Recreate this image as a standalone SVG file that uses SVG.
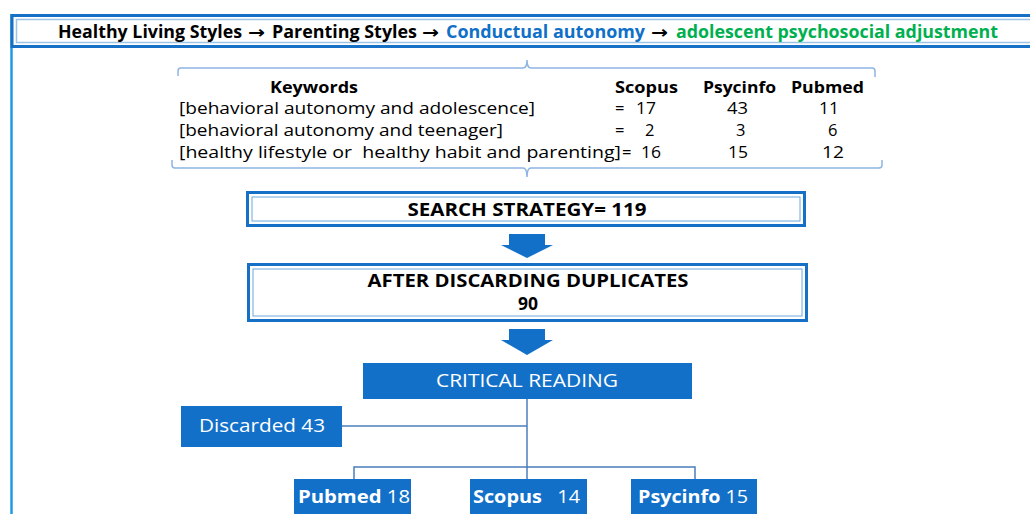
<svg xmlns="http://www.w3.org/2000/svg" width="1030" height="514" viewBox="0 0 1030 514">
<style>
.t{font-family:"Open Sans","Noto Sans","Liberation Sans",sans-serif;}
.ar{font-family:"DejaVu Sans","Liberation Sans",sans-serif;font-weight:bold;font-size:17px;fill:#000;}
.b{font-weight:bold;}
.k{font-size:16.5px;fill:#000;}
.hd{font-size:16.5px;font-weight:bold;fill:#000;}
.bx{fill:#1370C8;}
.wt{fill:#fff;font-size:17.5px;}
.brace{fill:none;stroke:#8EB4E3;stroke-width:1.5;}
.conn{fill:none;stroke:#4A7EBB;stroke-width:1.5;}
.outer{fill:#fff;stroke:#1670C6;stroke-width:3;}
.inner{fill:#fff;stroke:#6FA8DC;stroke-width:1;}
.arrow{fill:#1370C8;}
</style>

<!-- frame left line -->
<line x1="11.5" y1="14" x2="11.5" y2="514" stroke="#1E9BE0" stroke-width="2.5"/>

<g id="title">
  <rect x="12" y="15.5" width="1030" height="31" fill="#fff" stroke="#1670C6" stroke-width="3"/>
  <rect x="16.5" y="19.5" width="1030" height="23" fill="#fff" stroke="#9DC3E6" stroke-width="1.5"/>
  <text class="t b" x="58" y="38" font-size="17.5" textLength="184" lengthAdjust="spacingAndGlyphs" fill="#000">Healthy Living Styles</text>
  <text class="ar" x="248" y="38" textLength="17" lengthAdjust="spacingAndGlyphs">→</text>
  <text class="t b" x="272" y="38" font-size="17.5" textLength="145" lengthAdjust="spacingAndGlyphs" fill="#000">Parenting Styles</text>
  <text class="ar" x="422" y="38" textLength="17" lengthAdjust="spacingAndGlyphs">→</text>
  <text class="t b" x="446" y="38" font-size="17.5" textLength="199" lengthAdjust="spacingAndGlyphs" fill="#1070C8">Conductual autonomy</text>
  <text class="ar" x="651" y="38" textLength="17" lengthAdjust="spacingAndGlyphs">→</text>
  <text class="t b" x="676" y="38" font-size="17.5" textLength="322" lengthAdjust="spacingAndGlyphs" fill="#00B050">adolescent psychosocial adjustment</text>
</g>

<g id="keywords">
  <path class="brace" d="M178,76 L178,71 Q178,68 181,68 L523,68 Q527,68 527,60 Q527,68 531,68 L872,68 Q875,68 875,71 L875,77"/>
  <path class="brace" d="M172,160 L172,165 Q172,168 175,168 L523,168 Q527,168 527,177 Q527,168 531,168 L879,168 Q882,168 882,165 L882,160"/>
  <text class="t hd" x="270" y="93" textLength="88" lengthAdjust="spacingAndGlyphs">Keywords</text>
  <text class="t hd" x="615" y="93" textLength="63" lengthAdjust="spacingAndGlyphs">Scopus</text>
  <text class="t hd" x="703" y="93" textLength="73" lengthAdjust="spacingAndGlyphs">Psycinfo</text>
  <text class="t hd" x="791" y="93" textLength="73" lengthAdjust="spacingAndGlyphs">Pubmed</text>

  <text class="t k" x="179" y="114" textLength="356" lengthAdjust="spacingAndGlyphs">[behavioral autonomy and adolescence]</text>
  <text class="t k" x="179" y="136" textLength="324" lengthAdjust="spacingAndGlyphs">[behavioral autonomy and teenager]</text>
  <text class="t k" x="179" y="158" textLength="442" lengthAdjust="spacingAndGlyphs" xml:space="preserve">[healthy lifestyle or  healthy habit and parenting]</text>

  <text class="t k" x="615" y="114">=</text>
  <text class="t k" x="636" y="114" textLength="20" lengthAdjust="spacingAndGlyphs">17</text>
  <text class="t k" x="727" y="114" textLength="21" lengthAdjust="spacingAndGlyphs">43</text>
  <text class="t k" x="819" y="114" textLength="20" lengthAdjust="spacingAndGlyphs">11</text>

  <text class="t k" x="615" y="136">=</text>
  <text class="t k" x="645" y="136">2</text>
  <text class="t k" x="736" y="136">3</text>
  <text class="t k" x="828" y="136">6</text>

  <text class="t k" x="622" y="158">=</text>
  <text class="t k" x="641" y="158" textLength="20" lengthAdjust="spacingAndGlyphs">16</text>
  <text class="t k" x="728" y="158" textLength="20" lengthAdjust="spacingAndGlyphs">15</text>
  <text class="t k" x="822" y="158" textLength="22" lengthAdjust="spacingAndGlyphs">12</text>
</g>

<g id="search">
  <rect class="outer" x="247.5" y="192.5" width="557" height="33"/>
  <rect class="inner" x="252" y="197" width="548" height="24"/>
  <text class="t b" x="527" y="216" font-size="17" text-anchor="middle" textLength="239" lengthAdjust="spacingAndGlyphs">SEARCH STRATEGY= 119</text>
</g>

<g id="duplicates">
  <rect class="outer" x="248.5" y="264.5" width="558" height="56"/>
  <rect class="inner" x="253" y="269" width="549" height="47"/>
  <text class="t b" x="528" y="287" font-size="17" text-anchor="middle" textLength="321" lengthAdjust="spacingAndGlyphs">AFTER DISCARDING DUPLICATES</text>
  <text class="t b" x="528" y="310" font-size="17.5" text-anchor="middle">90</text>
</g>

<g id="critical">
  <rect class="bx" x="363" y="363" width="329" height="36"/>
  <text class="t wt" x="527" y="387" text-anchor="middle" textLength="182" lengthAdjust="spacingAndGlyphs">CRITICAL READING</text>
</g>

<g id="discarded">
  <rect class="bx" x="181" y="406" width="161" height="41"/>
  <text class="t wt" x="262" y="432" text-anchor="middle" textLength="126" lengthAdjust="spacingAndGlyphs">Discarded 43</text>
</g>

<g id="pubmed">
  <rect class="bx" x="294" y="479" width="117" height="40"/>
  <text class="t wt" x="298" y="503" textLength="112" lengthAdjust="spacingAndGlyphs"><tspan font-weight="bold">Pubmed</tspan> 18</text>
</g>
<g id="scopus">
  <rect class="bx" x="470" y="479" width="117" height="40"/>
  <text class="t wt" x="473" y="503" textLength="107" lengthAdjust="spacingAndGlyphs" xml:space="preserve"><tspan font-weight="bold">Scopus</tspan>   14</text>
</g>
<g id="psycinfo">
  <rect class="bx" x="631" y="479" width="126" height="40"/>
  <text class="t wt" x="638" y="503" textLength="110" lengthAdjust="spacingAndGlyphs"><tspan font-weight="bold">Psycinfo</tspan> 15</text>
</g>

<g id="connectors">
  <polygon class="arrow" points="509,234 545,234 545,245 553,245 527,258 501,245 509,245"/>
  <polygon class="arrow" points="509,329 545,329 545,340 553,340 527,355 501,340 509,340"/>
  <line class="conn" x1="527" y1="399" x2="527" y2="479"/>
  <line class="conn" x1="342" y1="426" x2="527" y2="426"/>
  <polyline class="conn" points="354,479 354,467 695,467 695,479"/>
</g>
</svg>
